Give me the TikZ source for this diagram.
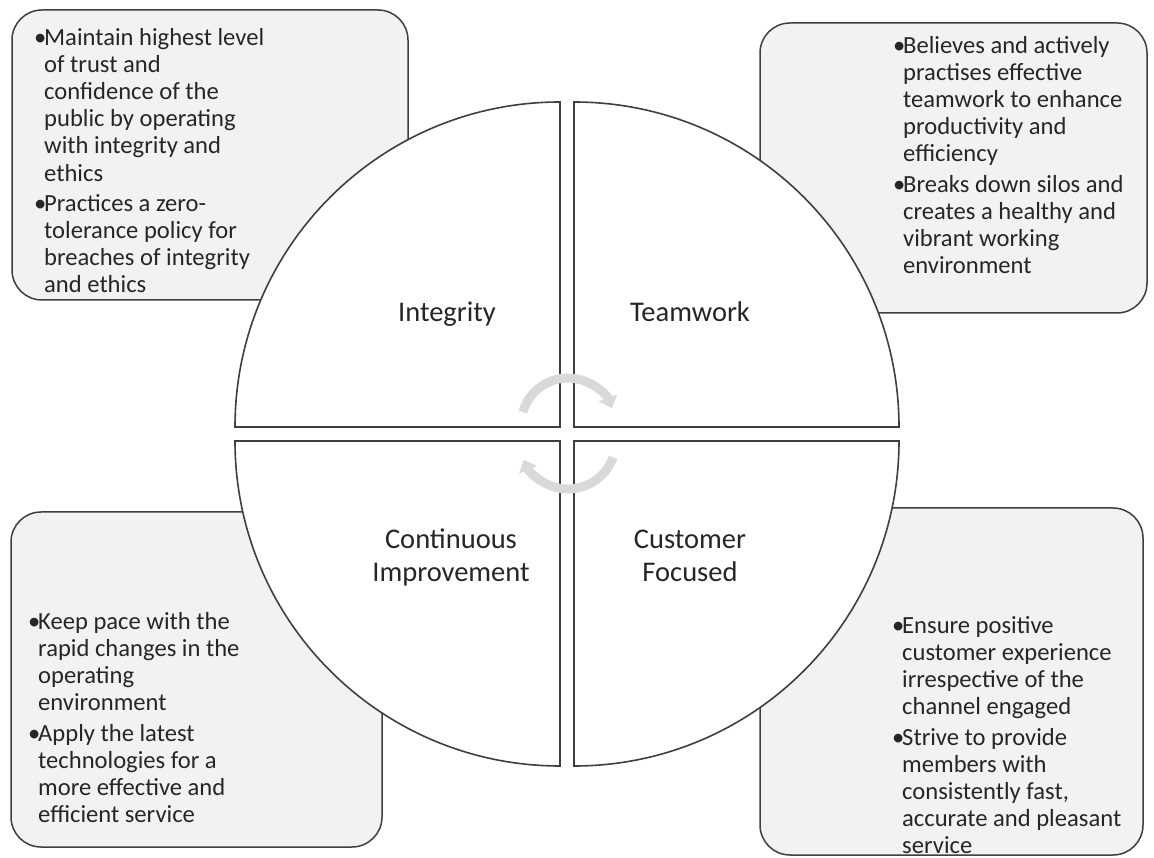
\documentclass[tikz,border=0pt]{standalone}
\usepackage{fontspec}
\setmainfont{Carlito}
\usetikzlibrary{arrows.meta}
\definecolor{boxfill}{HTML}{F2F2F2}
\definecolor{edge}{HTML}{3F3F3F}
\definecolor{cyc}{HTML}{D9D9D9}
\definecolor{ink}{HTML}{262626}
\tikzstyle{infobox}=[draw=edge, line width=1.5pt, fill=boxfill, rounded corners=30pt, inner sep=0pt]
\tikzstyle{quad}=[draw=edge, line width=1.6pt, fill=white]
\tikzstyle{cycarrow}=[draw=cyc, line width=9pt, -{Triangle[width=19pt,length=11pt]}]
\tikzstyle{bullets}=[anchor=north west, inner sep=0pt, align=left, text=ink, font=\fontsize{24.6}{27.2}\selectfont]
\tikzstyle{qlabel}=[inner sep=0pt, align=center, text=ink, font=\fontsize{28.5}{33}\selectfont]
\newcommand\bul{\rule{0pt}{20pt}\makebox[10pt][l]{•}}
\newcommand\ind{\hspace*{10pt}}

\begin{document}
\begin{tikzpicture}[x=1pt,y=1pt]
  \fill[white] (0,0) rectangle (1154,857);
  \useasboundingbox (0,0) rectangle (1154,857);

  % corner boxes
  \node (TL) [infobox, minimum width=396pt, minimum height=290pt] at (210,702) {};
  \node (TR) [infobox, minimum width=387pt, minimum height=290pt] at (953.5,689) {};
  \node (BL) [infobox, minimum width=371pt, minimum height=335pt] at (196.5,177.5) {};
  \node (BR) [infobox, minimum width=383pt, minimum height=347pt] at (951.5,175.5) {};

  % the four quarters
  \draw[quad] (560,430) -- ++(-325,0) arc[start angle=180, end angle=90, radius=325] -- cycle;
  \draw[quad] (574,430) -- ++(0,325) arc[start angle=90, end angle=0, radius=325] -- cycle;
  \draw[quad] (560,416) -- ++(0,-325) arc[start angle=270, end angle=180, radius=325] -- cycle;
  \draw[quad] (574,416) -- ++(325,0) arc[start angle=0, end angle=-90, radius=325] -- cycle;

  \node (IN) [qlabel, anchor=base] at (447,535) {Integrity};
  \node (TW) [qlabel, anchor=base] at (690,535) {Teamwork};
  \node (CI) [qlabel, anchor=north] at (451,328) {\rule{0pt}{19pt}Continuous\\Improvement};
  \node (CF) [qlabel, anchor=north] at (690,328) {\rule{0pt}{19pt}Customer\\Focused};

  % cycle arrows in the middle
  \draw[cycarrow] (568,432) ++(164:47) arc[start angle=164, end angle=21, radius=47];
  \draw[cycarrow] (568,416) ++(-20:48) arc[start angle=-20, end angle=-157, radius=48];

  \node (TLtxt) [bullets] at (34,832) {\bul Maintain highest level\\
    \ind of trust and\\
    \ind confidence of the\\
    \ind public by operating\\
    \ind with integrity and\\
    \ind ethics\\[3pt]
    \bul Practices a zero-\\
    \ind tolerance policy for\\
    \ind breaches of integrity\\
    \ind and ethics};
  \node (TRtxt) [bullets] at (893,824) {\bul Believes and actively\\
    \ind practises effective\\
    \ind teamwork to enhance\\
    \ind productivity and\\
    \ind efficiency\\[3pt]
    \bul Breaks down silos and\\
    \ind creates a healthy and\\
    \ind vibrant working\\
    \ind environment};
  \node (BLtxt) [bullets] at (28,248) {\bul Keep pace with the\\
    \ind rapid changes in the\\
    \ind operating\\
    \ind environment\\[3pt]
    \bul Apply the latest\\
    \ind technologies for a\\
    \ind more effective and\\
    \ind efficient service};
  \node (BRtxt) [bullets] at (892,244) {\bul Ensure positive\\
    \ind customer experience\\
    \ind irrespective of the\\
    \ind channel engaged\\[3pt]
    \bul Strive to provide\\
    \ind members with\\
    \ind consistently fast,\\
    \ind accurate and pleasant\\
    \ind service};
\end{tikzpicture}
\end{document}
